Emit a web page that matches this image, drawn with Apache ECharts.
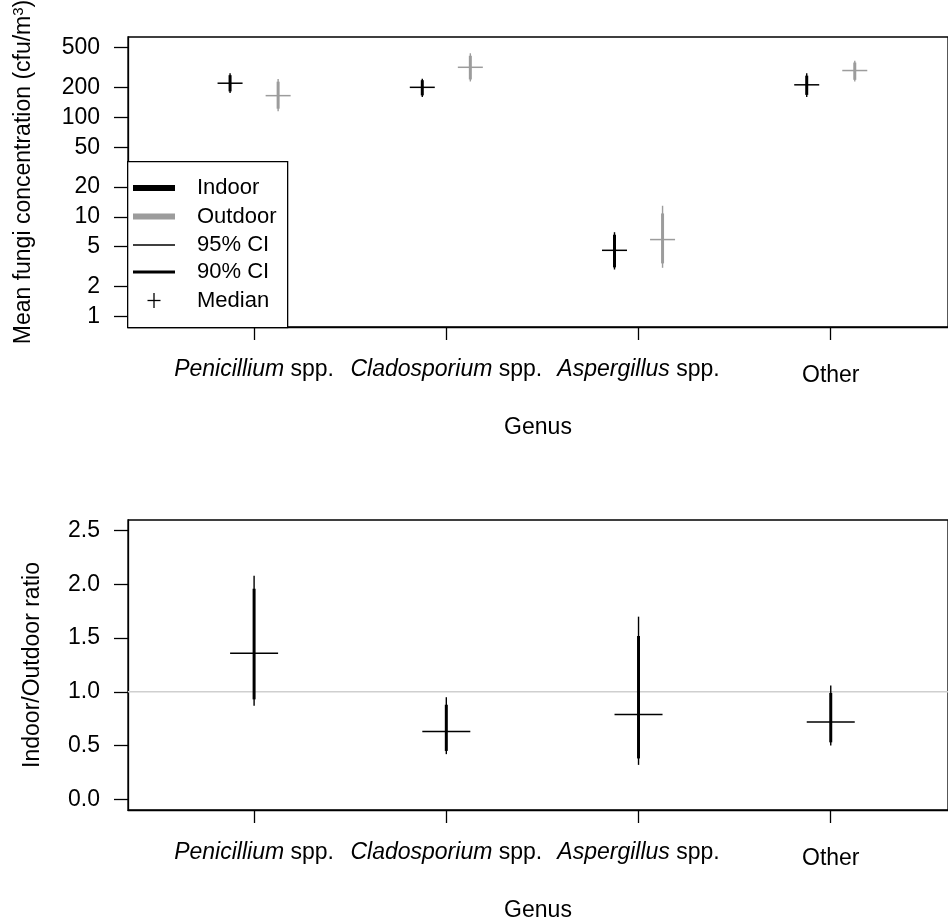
<!DOCTYPE html>
<html>
<head>
<meta charset="utf-8">
<script src="https://cdn.jsdelivr.net/npm/echarts@6/dist/echarts.min.js"></script>
<style>
  html, body { margin: 0; padding: 0; background: #fff; }
  #chart { width: 948px; height: 923px; }
</style>
</head>
<body>
<div id="chart"></div>
<script>
// genus names (italic part) and suffix
const genusItalic = ["Penicillium", "Cladosporium", "Aspergillus", ""];
const genusPlain = ["spp.", "spp.", "spp.", "Other"];
const genusPos = [1, 2, 3, 4];

// top panel: mean concentration (cfu/m3)
const indoorMedian = [220, 200, 4.6, 212];
const indoorLo95 = [175, 160, 2.95, 160];
const indoorHi95 = [277, 244, 7.0, 277];
const indoorLo90 = [182, 166, 3.1, 168];
const indoorHi90 = [265, 236, 6.6, 262];

const outdoorMedian = [165, 318, 5.9, 295];
const outdoorLo95 = [115, 229, 3.07, 229];
const outdoorHi95 = [242, 440, 12.9, 369];
const outdoorLo90 = [122, 240, 3.4, 238];
const outdoorHi90 = [228, 415, 10.8, 355];

// bottom panel: indoor/outdoor ratio
const ratioMedian = [1.36, 0.63, 0.79, 0.72];
const ratioLo95 = [0.87, 0.42, 0.32, 0.50];
const ratioHi95 = [2.08, 0.95, 1.70, 1.06];
const ratioLo90 = [0.93, 0.45, 0.38, 0.53];
const ratioHi90 = [1.96, 0.88, 1.52, 0.99];
const refLine = 1;

// tick labels
const concTicks = [1, 2, 5, 10, 20, 50, 100, 200, 500];
const ratioTicks = [0, 0.5, 1, 1.5, 2, 2.5];

const FONT = "'Liberation Sans', Arial, sans-serif";
const FS = 23;
const LFS = 22;
const GREY = "#9c9c9c";

// axis ranges (R style 4% extension; right side runs to the figure edge)
const xMin = 0.344, xMax = 4.61;
const logLim = [Math.log10(1), Math.log10(500)];
const logExt = 0.04 * (logLim[1] - logLim[0]);
const concMin = Math.pow(10, logLim[0] - logExt);
const concMax = Math.pow(10, logLim[1] + logExt);
const rLim = [0, 2.5];
const rExt = 0.04 * (rLim[1] - rLim[0]);

const chart = echarts.init(document.getElementById("chart"), null, { renderer: "canvas" });

function rows(offset, med, lo95, hi95, lo90, hi90) {
  return genusPos.map((p, i) => [p + offset, lo95[i], hi95[i], lo90[i], hi90[i], med[i]]);
}

// vertical CI lines plus the median cross
function ciRender(color, halfW) {
  return function (params, api) {
    const x = api.value(0);
    const a95 = api.coord([x, api.value(1)]);
    const b95 = api.coord([x, api.value(2)]);
    const a90 = api.coord([x, api.value(3)]);
    const b90 = api.coord([x, api.value(4)]);
    const m = api.coord([x, api.value(5)]);
    return {
      type: "group",
      children: [
        { type: "line", shape: { x1: a95[0], y1: a95[1], x2: b95[0], y2: b95[1] }, style: { stroke: color, lineWidth: 1.4 } },
        { type: "line", shape: { x1: a90[0], y1: a90[1], x2: b90[0], y2: b90[1] }, style: { stroke: color, lineWidth: 3 } },
        { type: "line", shape: { x1: m[0] - halfW, y1: m[1], x2: m[0] + halfW, y2: m[1] }, style: { stroke: color, lineWidth: 1.5 } }
      ]
    };
  };
}

const labelRich = {
  it: { fontStyle: "italic", fontFamily: FONT, fontSize: FS, color: "#000" },
  pl: { fontFamily: FONT, fontSize: FS, color: "#000" },
  ot: { fontFamily: FONT, fontSize: FS, color: "#000", padding: [6, 0, 0, 0] }
};
function genusLabel(v) {
  const i = genusPos.indexOf(Math.round(v));
  if (i < 0) return "";
  if (!genusItalic[i]) return "{ot|" + genusPlain[i] + "}";
  return "{it|" + genusItalic[i] + "} {pl|" + genusPlain[i] + "}";
}

function xAxisFor(gridIndex) {
  return {
    type: "value", gridIndex: gridIndex, min: xMin, max: xMax,
    name: "Genus", nameLocation: "middle", nameGap: 89,
    nameTextStyle: { fontFamily: FONT, fontSize: FS, color: "#000" },
    axisLine: { show: true, onZero: false, lineStyle: { color: "#000", width: 1.3 } },
    axisTick: { show: true, inside: false, length: 13, customValues: genusPos, lineStyle: { color: "#000", width: 1.3 } },
    axisLabel: { show: true, margin: 31, customValues: genusPos, formatter: genusLabel, rich: labelRich, fontSize: FS, fontFamily: FONT, color: "#000" },
    splitLine: { show: false }
  };
}

const option = {
  backgroundColor: "#fff",
  animation: false,
  grid: [
    { left: 128, right: 0, top: 37, height: 290, outerBoundsMode: "none", show: true, borderColor: "#000", borderWidth: 1.3 },
    { left: 128, right: 0, top: 520, height: 290, outerBoundsMode: "none", show: true, borderColor: "#000", borderWidth: 1.3 }
  ],
  xAxis: [xAxisFor(0), xAxisFor(1)],
  yAxis: [
    {
      type: "log", gridIndex: 0, min: concMin, max: concMax, logBase: 10,
      name: "Mean fungi concentration (cfu/m{sup|3})", nameLocation: "middle", nameGap: 92, nameRotate: 90,
      nameTextStyle: {
        fontFamily: FONT, fontSize: FS, color: "#000", padding: [0, 0, 0, 20],
        rich: { sup: { fontFamily: FONT, fontSize: 15, color: "#000", verticalAlign: "top", padding: [0, 0, 10, 0] } }
      },
      axisLine: { show: true, lineStyle: { color: "#000", width: 1.3 } },
      axisTick: { show: true, length: 14, customValues: concTicks, lineStyle: { color: "#000", width: 1.3 } },
      axisLabel: { customValues: concTicks, margin: 28, fontFamily: FONT, fontSize: FS, color: "#000", formatter: (v) => String(v) },
      splitLine: { show: false }, minorTick: { show: false }
    },
    {
      type: "value", gridIndex: 1, min: rLim[0] - rExt, max: rLim[1] + rExt,
      name: "Indoor/Outdoor ratio", nameLocation: "middle", nameGap: 84, nameRotate: 90,
      nameTextStyle: { fontFamily: FONT, fontSize: FS, color: "#000" },
      axisLine: { show: true, lineStyle: { color: "#000", width: 1.3 } },
      axisTick: { show: true, length: 14, customValues: ratioTicks, lineStyle: { color: "#000", width: 1.3 } },
      axisLabel: { customValues: ratioTicks, margin: 28, fontFamily: FONT, fontSize: FS, color: "#000", formatter: (v) => v.toFixed(1) },
      splitLine: { show: false }
    }
  ],
  series: [
    {
      type: "line", xAxisIndex: 1, yAxisIndex: 1, symbol: "none", silent: true, z: 1,
      data: [[xMin, refLine], [xMax, refLine]],
      lineStyle: { color: "#cfcfcf", width: 1.5 }
    },
    {
      name: "Indoor", type: "custom", xAxisIndex: 0, yAxisIndex: 0, z: 3,
      renderItem: ciRender("#000", 12.5),
      encode: { x: 0, y: [1, 2, 3, 4, 5] },
      data: rows(-0.125, indoorMedian, indoorLo95, indoorHi95, indoorLo90, indoorHi90)
    },
    {
      name: "Outdoor", type: "custom", xAxisIndex: 0, yAxisIndex: 0, z: 3,
      renderItem: ciRender(GREY, 12.5),
      encode: { x: 0, y: [1, 2, 3, 4, 5] },
      data: rows(0.125, outdoorMedian, outdoorLo95, outdoorHi95, outdoorLo90, outdoorHi90)
    },
    {
      name: "Ratio", type: "custom", xAxisIndex: 1, yAxisIndex: 1, z: 3,
      renderItem: ciRender("#000", 24),
      encode: { x: 0, y: [1, 2, 3, 4, 5] },
      data: rows(0, ratioMedian, ratioLo95, ratioHi95, ratioLo90, ratioHi90)
    }
  ],
  graphic: [
    { type: "rect", left: 127, top: 161, shape: { width: 160, height: 166 }, style: { fill: "#fff", stroke: "#000", lineWidth: 1.3 }, z: 10 },
    { type: "line", shape: { x1: 133, y1: 188, x2: 175, y2: 188 }, style: { stroke: "#000", lineWidth: 6 }, z: 11 },
    { type: "line", shape: { x1: 133, y1: 216.5, x2: 175, y2: 216.5 }, style: { stroke: GREY, lineWidth: 6 }, z: 11 },
    { type: "line", shape: { x1: 133, y1: 245, x2: 175, y2: 245 }, style: { stroke: "#000", lineWidth: 1.4 }, z: 11 },
    { type: "line", shape: { x1: 133, y1: 272, x2: 175, y2: 272 }, style: { stroke: "#000", lineWidth: 3 }, z: 11 },
    { type: "line", shape: { x1: 147.5, y1: 300.5, x2: 160.5, y2: 300.5 }, style: { stroke: "#000", lineWidth: 1.3 }, z: 11 },
    { type: "line", shape: { x1: 154, y1: 293, x2: 154, y2: 308 }, style: { stroke: "#000", lineWidth: 1.3 }, z: 11 },
    { type: "text", x: 197, y: 188, style: { text: "Indoor", font: LFS + "px " + FONT, fill: "#000", textVerticalAlign: "middle" }, z: 11 },
    { type: "text", x: 197, y: 216.5, style: { text: "Outdoor", font: LFS + "px " + FONT, fill: "#000", textVerticalAlign: "middle" }, z: 11 },
    { type: "text", x: 197, y: 245, style: { text: "95% CI", font: LFS + "px " + FONT, fill: "#000", textVerticalAlign: "middle" }, z: 11 },
    { type: "text", x: 197, y: 272, style: { text: "90% CI", font: LFS + "px " + FONT, fill: "#000", textVerticalAlign: "middle" }, z: 11 },
    { type: "text", x: 197, y: 301, style: { text: "Median", font: LFS + "px " + FONT, fill: "#000", textVerticalAlign: "middle" }, z: 11 }
  ]
};

chart.setOption(option);
</script>
</body>
</html>
